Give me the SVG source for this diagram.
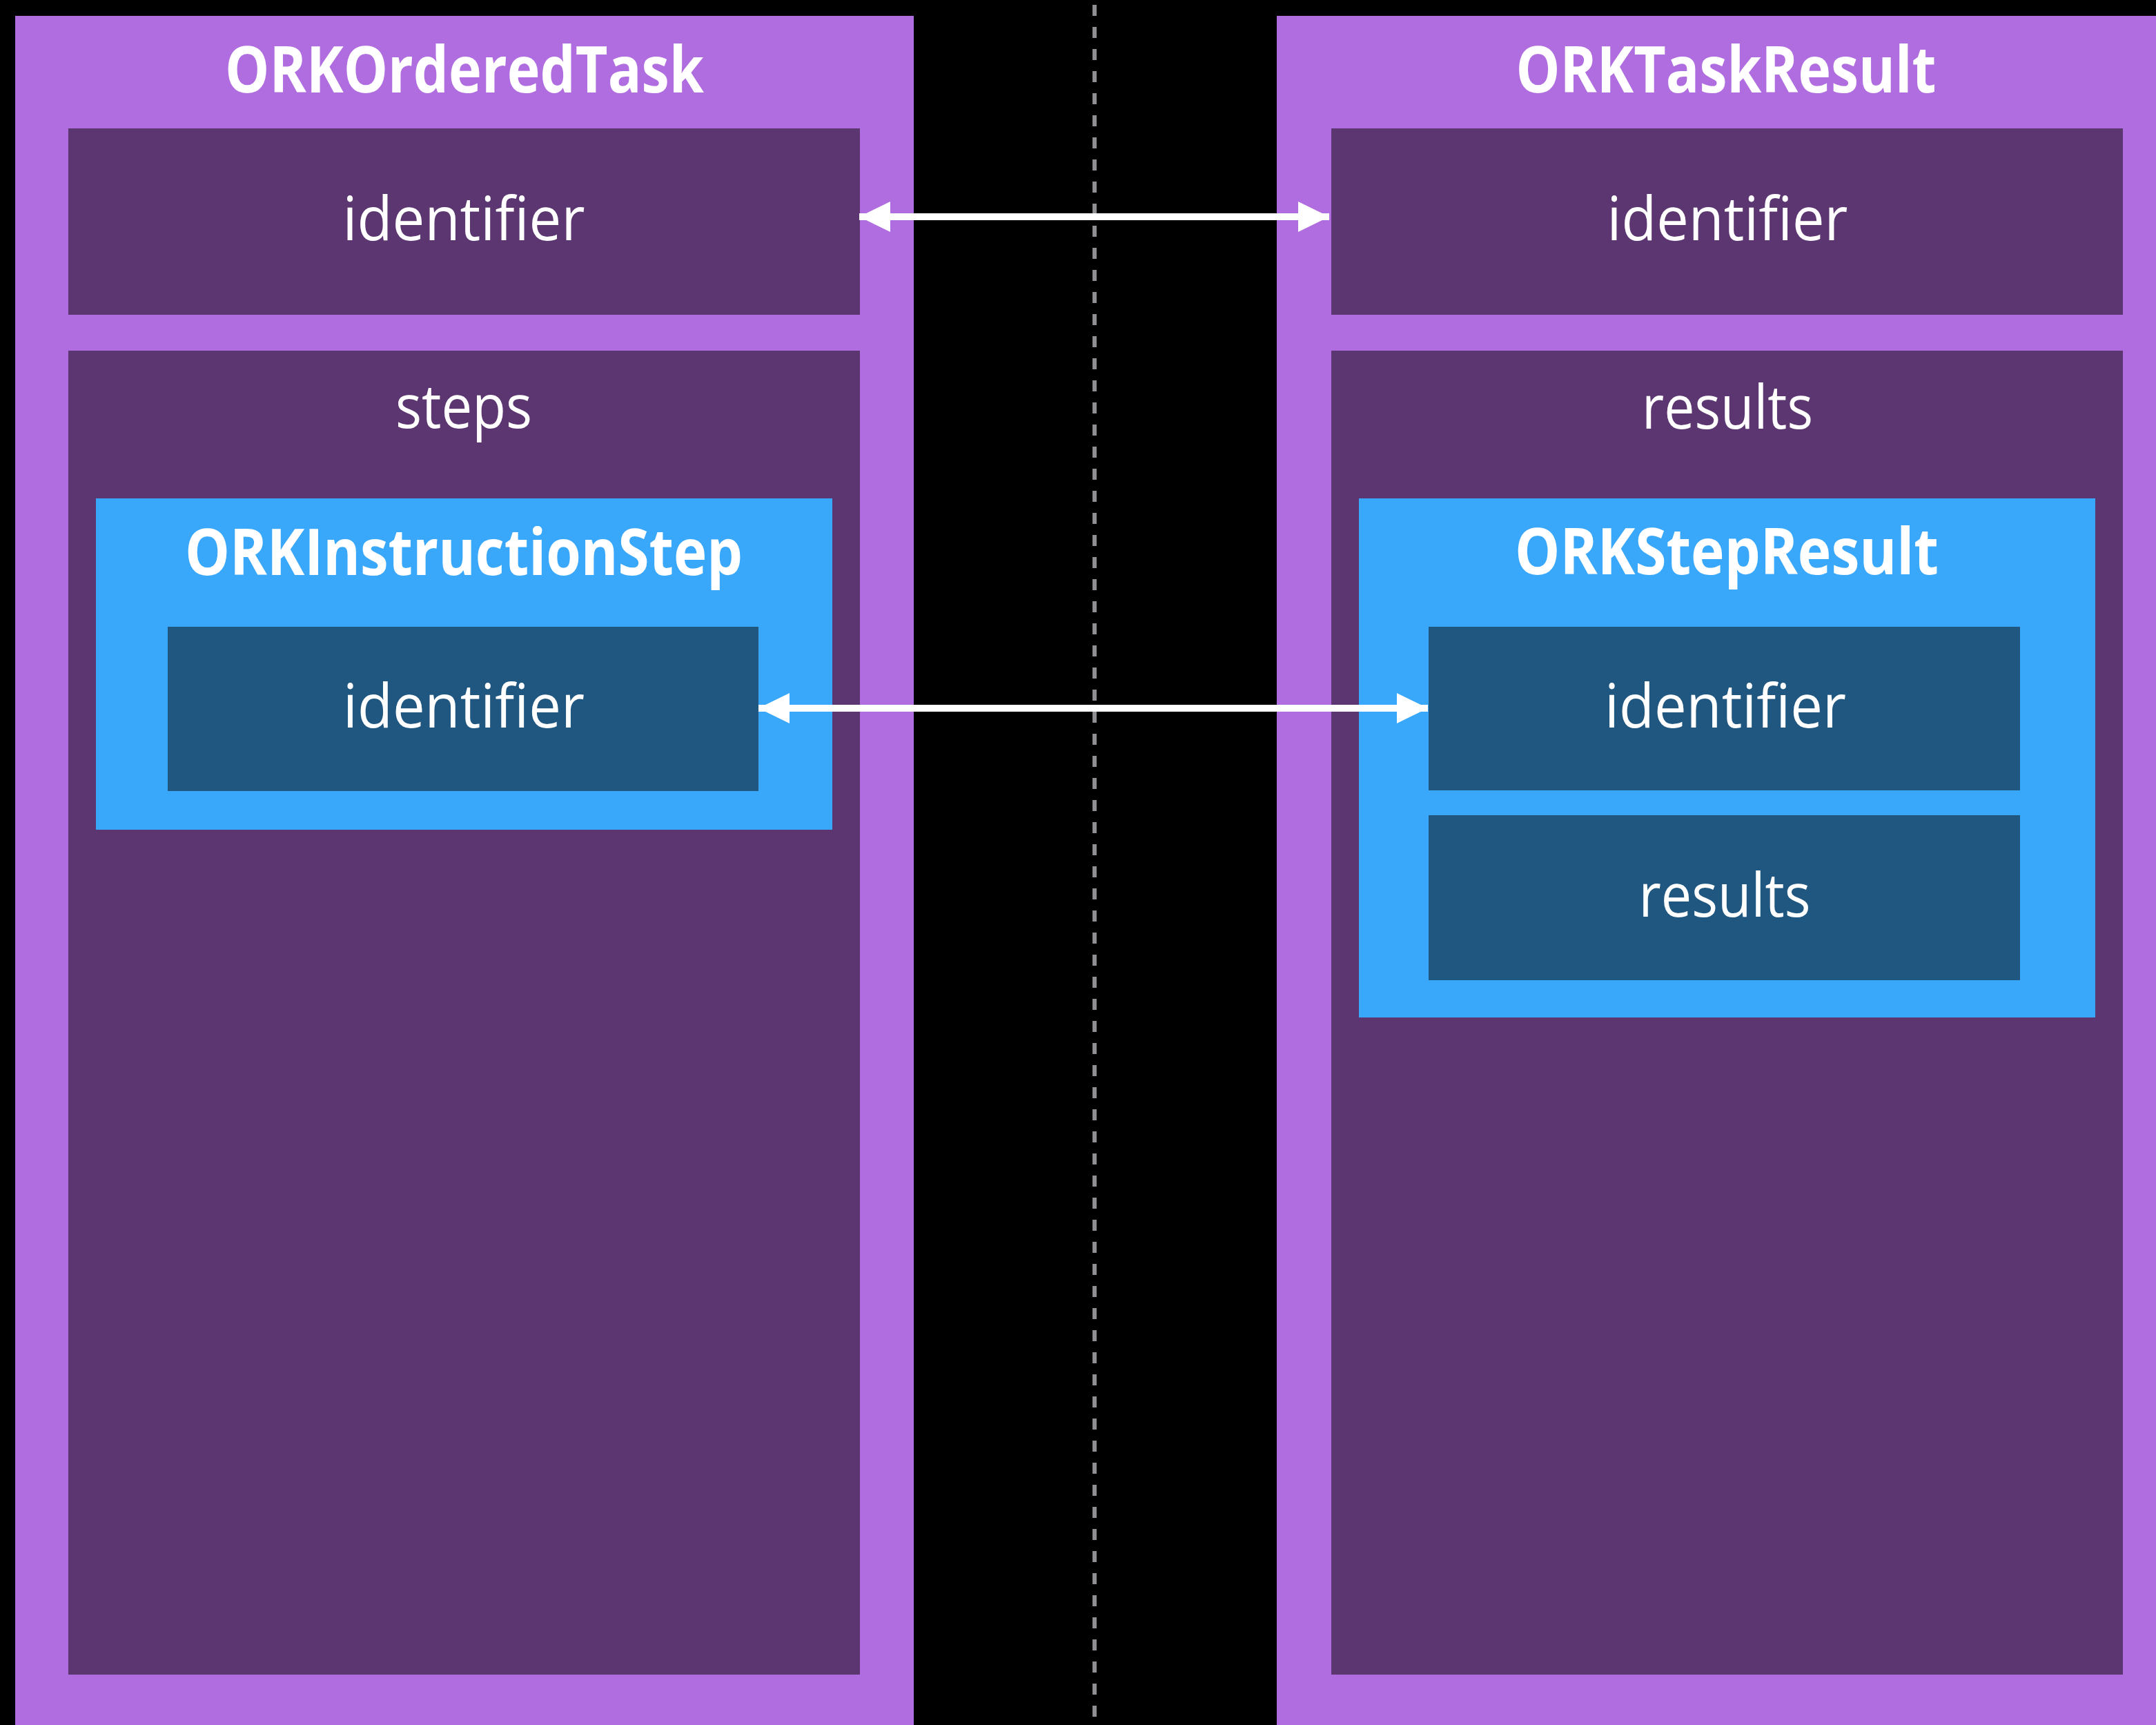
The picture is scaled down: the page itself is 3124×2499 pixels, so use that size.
<svg xmlns="http://www.w3.org/2000/svg" width="3124" height="2499" viewBox="0 0 3124 2499">
<style>
.outer{fill:#B06DE0}
.field{fill:#5B3670}
.cls{fill:#3AA8FA}
.inner{fill:#1F5780}
.t{fill:#FFFFFF;font-family:"Open Sans","Noto Sans",sans-serif;text-anchor:middle}
.title{font-weight:bold;font-size:93px}
.lbl{font-size:88px}
.conn{stroke:#FFFFFF;stroke-width:10;fill:none}
</style>
<defs>
<marker id="ah" viewBox="0 0 45 44" refX="45" refY="22" markerWidth="45" markerHeight="44" markerUnits="userSpaceOnUse" orient="auto-start-reverse">
<path d="M0,0 L45,22 L0,44 Z" fill="#FFFFFF"/>
</marker>
</defs>
<rect x="0" y="0" width="3124" height="2499" fill="#000000"/>
<line x1="1586" y1="7" x2="1586" y2="2499" stroke="#8E8E93" stroke-width="6" stroke-dasharray="16 16"/>
<g id="ORKOrderedTask">
<rect class="outer" x="22" y="23" width="1302" height="2476"/>
<text class="t title" x="673" y="134" textLength="694" lengthAdjust="spacingAndGlyphs">ORKOrderedTask</text>
</g>
<g id="task-identifier">
<rect class="field" x="99" y="186" width="1147" height="270"/>
<text class="t lbl" x="672" y="348" textLength="351" lengthAdjust="spacingAndGlyphs">identifier</text>
</g>
<g id="task-steps">
<rect class="field" x="99" y="508" width="1147" height="1918"/>
<text class="t lbl" x="672" y="620" textLength="198" lengthAdjust="spacingAndGlyphs">steps</text>
</g>
<g id="ORKInstructionStep">
<rect class="cls" x="139" y="722" width="1067" height="480"/>
<text class="t title" x="672" y="833" textLength="808" lengthAdjust="spacingAndGlyphs">ORKInstructionStep</text>
</g>
<g id="step-identifier">
<rect class="inner" x="243" y="908" width="856" height="238"/>
<text class="t lbl" x="672" y="1054" textLength="350" lengthAdjust="spacingAndGlyphs">identifier</text>
</g>
<g id="ORKTaskResult">
<rect class="outer" x="1850" y="23" width="1274" height="2476"/>
<text class="t title" x="2501" y="134" textLength="609" lengthAdjust="spacingAndGlyphs">ORKTaskResult</text>
</g>
<g id="taskresult-identifier">
<rect class="field" x="1929" y="186" width="1147" height="270"/>
<text class="t lbl" x="2503" y="348" textLength="349" lengthAdjust="spacingAndGlyphs">identifier</text>
</g>
<g id="taskresult-results">
<rect class="field" x="1929" y="508" width="1147" height="1918"/>
<text class="t lbl" x="2503" y="621" textLength="248" lengthAdjust="spacingAndGlyphs">results</text>
</g>
<g id="ORKStepResult">
<rect class="cls" x="1969" y="722" width="1067" height="752"/>
<text class="t title" x="2502" y="832" textLength="614" lengthAdjust="spacingAndGlyphs">ORKStepResult</text>
</g>
<g id="stepresult-identifier">
<rect class="inner" x="2070" y="908" width="857" height="237"/>
<text class="t lbl" x="2500" y="1054" textLength="350" lengthAdjust="spacingAndGlyphs">identifier</text>
</g>
<g id="stepresult-results">
<rect class="inner" x="2070" y="1181" width="857" height="239"/>
<text class="t lbl" x="2499" y="1328" textLength="249" lengthAdjust="spacingAndGlyphs">results</text>
</g>
<g id="connectors">
<line class="conn" x1="1245" y1="314" x2="1926" y2="314" marker-start="url(#ah)" marker-end="url(#ah)"/>
<line class="conn" x1="1099" y1="1026" x2="2069" y2="1026" marker-start="url(#ah)" marker-end="url(#ah)"/>
</g>
</svg>
